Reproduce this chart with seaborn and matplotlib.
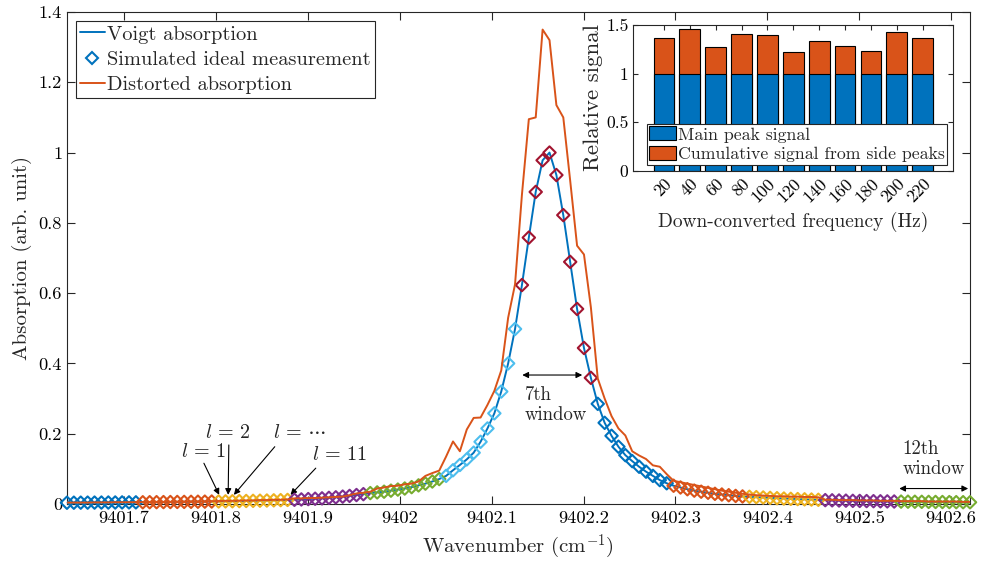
import numpy as np
import pandas as pd
import matplotlib
matplotlib.use("Agg")
import matplotlib.pyplot as plt
import seaborn as sns
from matplotlib.lines import Line2D
from matplotlib.patches import Patch

# ---------------- data ----------------
# wavenumber sampling grid (cm^-1): 12 windows x 11 samples
wn_start = 9401.638
wn_step = 0.0075
n_windows = 12
window_len = 11

# simulated ideal measurement (samples of the Voigt profile)
ideal_absorption = [
    0.0036, 0.0037, 0.0038, 0.0039, 0.0040, 0.0041, 0.0042, 0.0043, 0.0045, 0.0046, 0.0047,
    0.0049, 0.0051, 0.0052, 0.0054, 0.0056, 0.0058, 0.0060, 0.0062, 0.0065, 0.0067, 0.0070,
    0.0072, 0.0075, 0.0078, 0.0082, 0.0086, 0.0090, 0.0094, 0.0099, 0.0104, 0.0110, 0.0116,
    0.0120, 0.0130, 0.0140, 0.0150, 0.0160, 0.0175, 0.0190, 0.0210, 0.0230, 0.0255, 0.0280,
    0.0310, 0.0330, 0.0350, 0.0380, 0.0410, 0.0440, 0.0480, 0.0530, 0.0580, 0.0640, 0.0710,
    0.0800, 0.0960, 0.1110, 0.1270, 0.1460, 0.1770, 0.2150, 0.2580, 0.3200, 0.4000, 0.4980,
    0.6230, 0.7580, 0.8880, 0.9780, 1.0000, 0.9360, 0.8220, 0.6890, 0.5550, 0.4440, 0.3590,
    0.2850, 0.2310, 0.1940, 0.1630, 0.1390, 0.1220, 0.1060, 0.0920, 0.0800, 0.0680, 0.0590,
    0.0520, 0.0470, 0.0420, 0.0380, 0.0350, 0.0320, 0.0290, 0.0270, 0.0250, 0.0230, 0.0215,
    0.0205, 0.0195, 0.0185, 0.0175, 0.0165, 0.0155, 0.0147, 0.0140, 0.0133, 0.0127, 0.0120,
    0.0110, 0.0105, 0.0100, 0.0095, 0.0090, 0.0087, 0.0083, 0.0080, 0.0077, 0.0074, 0.0071,
    0.0068, 0.0066, 0.0064, 0.0062, 0.0060, 0.0058, 0.0056, 0.0054, 0.0052, 0.0051, 0.0049,
]

# distorted absorption on the same grid
distorted_absorption = [
    0.0040, 0.0040, 0.0040, 0.0040, 0.0045, 0.0045, 0.0045, 0.0050, 0.0050, 0.0050, 0.0050,
    0.0055, 0.0055, 0.0060, 0.0060, 0.0060, 0.0065, 0.0065, 0.0070, 0.0070, 0.0075, 0.0080,
    0.0085, 0.0090, 0.0090, 0.0095, 0.0100, 0.0100, 0.0110, 0.0110, 0.0120, 0.0120, 0.0130,
    0.0160, 0.0160, 0.0170, 0.0170, 0.0180, 0.0190, 0.0200, 0.0210, 0.0250, 0.0300, 0.0320,
    0.0350, 0.0440, 0.0470, 0.0510, 0.0520, 0.0560, 0.0580, 0.0640, 0.0800, 0.0880, 0.0950,
    0.1350, 0.1780, 0.1500, 0.2120, 0.2450, 0.2460, 0.2820, 0.3220, 0.3800, 0.5300, 0.6250,
    0.8800, 1.0950, 1.1000, 1.3500, 1.3200, 1.1350, 1.1000, 0.9200, 0.7350, 0.7100, 0.5600,
    0.3570, 0.3000, 0.2500, 0.2150, 0.1950, 0.1500, 0.1380, 0.1280, 0.1100, 0.1060, 0.0850,
    0.0660, 0.0620, 0.0580, 0.0540, 0.0500, 0.0460, 0.0420, 0.0380, 0.0350, 0.0320, 0.0290,
    0.0270, 0.0250, 0.0240, 0.0230, 0.0220, 0.0220, 0.0210, 0.0210, 0.0200, 0.0200, 0.0190,
    0.0120, 0.0120, 0.0110, 0.0110, 0.0110, 0.0100, 0.0100, 0.0100, 0.0090, 0.0090, 0.0090,
    0.0080, 0.0080, 0.0080, 0.0080, 0.0070, 0.0070, 0.0070, 0.0070, 0.0070, 0.0060, 0.0060,
]

x_ticks = [9401.7, 9401.8, 9401.9, 9402.0, 9402.1, 9402.2, 9402.3, 9402.4, 9402.5, 9402.6]
x_tick_labels = ["9401.7", "9401.8", "9401.9", "9402", "9402.1", "9402.2",
                 "9402.3", "9402.4", "9402.5", "9402.6"]
y_ticks = [0, 0.2, 0.4, 0.6, 0.8, 1.0, 1.2, 1.4]
y_tick_labels = ["0", "0.2", "0.4", "0.6", "0.8", "1", "1.2", "1.4"]

# inset: relative signal versus down-converted frequency
freq_hz = ["20", "40", "60", "80", "100", "120", "140", "160", "180", "200", "220"]
main_peak_signal = [1.0] * 11
side_peak_signal = [0.363, 0.456, 0.274, 0.407, 0.400, 0.222, 0.339, 0.280, 0.229, 0.425, 0.363]

# ---------------- style ----------------
BLUE = "#0072BD"
ORANGE = "#D95319"
YELLOW = "#EDB120"
PURPLE = "#7E2F8E"
GREEN = "#77AC30"
LIGHTBLUE = "#4DBEEE"
DARKRED = "#A2142F"
cycle = [BLUE, ORANGE, YELLOW, PURPLE, GREEN, LIGHTBLUE, DARKRED]
window_colors = [cycle[i % len(cycle)] for i in range(n_windows)]
AX_COLOR = "#262626"

sns.set_style("ticks")
plt.rcParams["font.family"] = ["cmr10", "DejaVu Serif"]
plt.rcParams["mathtext.fontset"] = "cm"
plt.rcParams["axes.unicode_minus"] = False
plt.rcParams["axes.formatter.use_mathtext"] = True
for k in ["xtick", "ytick"]:
    plt.rcParams[f"{k}.direction"] = "in"
    plt.rcParams[f"{k}.color"] = AX_COLOR
    plt.rcParams[f"{k}.labelcolor"] = "black"
plt.rcParams["xtick.top"] = True
plt.rcParams["ytick.right"] = True
plt.rcParams["axes.edgecolor"] = AX_COLOR

wn = wn_start + wn_step * np.arange(n_windows * window_len)
df = pd.DataFrame({
    "wavenumber": wn,
    "ideal": ideal_absorption,
    "distorted": distorted_absorption,
    "window": [f"w{i + 1}" for i in np.repeat(np.arange(n_windows), window_len)],
})

fig = plt.figure(figsize=(9.89, 5.63), dpi=100)
ax = fig.add_axes([0.0677, 0.1048, 0.9131, 0.8739])

# Voigt absorption line
sns.lineplot(data=df, x="wavenumber", y="ideal", color=BLUE, lw=1.4,
             estimator=None, sort=False, ax=ax, legend=False, zorder=3)
# simulated ideal measurement, coloured per window
sns.scatterplot(data=df, x="wavenumber", y="ideal", hue="window",
                hue_order=[f"w{i + 1}" for i in range(n_windows)],
                palette=window_colors, marker="D", s=40, linewidth=1.5,
                legend=False, ax=ax, zorder=4)
pts = ax.collections[-1]
fc = pts.get_facecolors()
pts.set_edgecolors(fc)
pts.set_facecolors("none")
pts.set_clip_on(False)
# distorted absorption
sns.lineplot(data=df, x="wavenumber", y="distorted", color=ORANGE, lw=1.4,
             estimator=None, sort=False, ax=ax, legend=False, zorder=5)

ax.set_xlim(wn[0], wn[-1])
ax.set_ylim(0, 1.4)
ax.set_xticks(x_ticks)
ax.set_xticklabels(x_tick_labels, fontsize=13.2)
ax.set_yticks(y_ticks)
ax.set_yticklabels(y_tick_labels, fontsize=13.2)
ax.tick_params(length=6, width=0.8)
ax.tick_params(axis="x", pad=5)
for sp in ax.spines.values():
    sp.set_linewidth(0.8)
    sp.set_visible(True)
ax.set_xlabel(r"Wavenumber (cm$^{-1}$)", fontsize=15, labelpad=5)
ax.set_ylabel("Absorption (arb. unit)", fontsize=15, labelpad=5)

handles = [
    Line2D([], [], color=BLUE, lw=1.4),
    Line2D([], [], color=BLUE, lw=0, marker="D", markersize=6,
           markerfacecolor="none", markeredgewidth=1.5),
    Line2D([], [], color=ORANGE, lw=1.4),
]
leg = ax.legend(handles, ["Voigt absorption", "Simulated ideal measurement",
                          "Distorted absorption"],
                loc="upper left", bbox_to_anchor=(0.0096, 0.982), borderaxespad=0,
                fontsize=14.7, handlelength=1.2, handletextpad=0.12,
                labelspacing=0.33, borderpad=0.22, fancybox=False,
                framealpha=1, edgecolor=AX_COLOR)
leg.get_frame().set_linewidth(0.8)

# window index annotations
arrow_kw = dict(arrowstyle="-|>", color="black", lw=0.8, mutation_scale=9,
                shrinkA=0, shrinkB=0)
ax.annotate("", xy=(9401.8036, 0.026), xytext=(9401.787, 0.116), arrowprops=arrow_kw)
ax.annotate("", xy=(9401.8134, 0.026), xytext=(9401.8141, 0.168), arrowprops=arrow_kw)
ax.annotate("", xy=(9401.8196, 0.026), xytext=(9401.8641, 0.163), arrowprops=arrow_kw)
ax.annotate("", xy=(9401.8812, 0.026), xytext=(9401.9087, 0.102), arrowprops=arrow_kw)
ax.text(9401.7862, 0.149, r"$l\,=\,1$", fontsize=14.5, ha="center", va="center")
ax.text(9401.8134, 0.203, r"$l\,=\,2$", fontsize=14.5, ha="center", va="center")
ax.text(9401.891, 0.203, r"$l\,=\,\cdots$", fontsize=14.5, ha="center", va="center")
ax.text(9401.9348, 0.139, r"$l\,=\,11$", fontsize=14.5, ha="center", va="center")

dbl_kw = dict(arrowstyle="<|-|>", color="black", lw=0.8, mutation_scale=9,
              shrinkA=0, shrinkB=0)
ax.annotate("", xy=(9402.1334, 0.367), xytext=(9402.1986, 0.367), arrowprops=dbl_kw)
ax.text(9402.1359, 0.335, "7th\nwindow", fontsize=13.5, ha="left", va="top",
        linespacing=1.15)
ax.annotate("", xy=(9402.5435, 0.044), xytext=(9402.6185, 0.044), arrowprops=dbl_kw)
ax.text(9402.547, 0.181, "12th\nwindow", fontsize=13.5, ha="left", va="top",
        linespacing=1.15)

# ---------------- inset ----------------
axin = fig.add_axes([0.6404, 0.6968, 0.3229, 0.2588])
axin.set_facecolor("white")
total_signal = [m + s for m, s in zip(main_peak_signal, side_peak_signal)]
sns.barplot(x=freq_hz, y=total_signal, color=ORANGE, saturation=1, width=0.8,
            edgecolor="black", linewidth=0.8, ax=axin)
sns.barplot(x=freq_hz, y=main_peak_signal, color=BLUE, saturation=1, width=0.8,
            edgecolor="black", linewidth=0.8, ax=axin)
axin.set_xlim(-1.18, 11.16)
axin.set_ylim(0, 1.5)
axin.set_yticks([0, 0.5, 1, 1.5])
axin.set_yticklabels(["0", "0.5", "1", "1.5"], fontsize=12.6)
axin.set_xticks(range(len(freq_hz)))
axin.set_xticklabels(freq_hz, fontsize=12.6, rotation=45, ha="right",
                     rotation_mode="anchor")
axin.tick_params(length=3.5, width=0.8, top=True, right=True)
for sp in axin.spines.values():
    sp.set_linewidth(0.8)
    sp.set_visible(True)
axin.set_xlabel("Down-converted frequency (Hz)", fontsize=14, labelpad=5)
axin.set_ylabel("Relative signal", fontsize=16.5, labelpad=2)
leg2 = axin.legend([Patch(facecolor=BLUE, edgecolor="black", lw=0.8),
                    Patch(facecolor=ORANGE, edgecolor="black", lw=0.8)],
                   ["Main peak signal", "Cumulative signal from side peaks"],
                   loc="lower left", bbox_to_anchor=(0.042, 0.039), borderaxespad=0,
                   fontsize=12.8, handlelength=1.5, handleheight=0.85,
                   handletextpad=0.1, labelspacing=0.2, borderpad=0.15,
                   fancybox=False, framealpha=1, edgecolor=AX_COLOR)
leg2.get_frame().set_linewidth(0.8)

fig.savefig("out.png", dpi=100)
